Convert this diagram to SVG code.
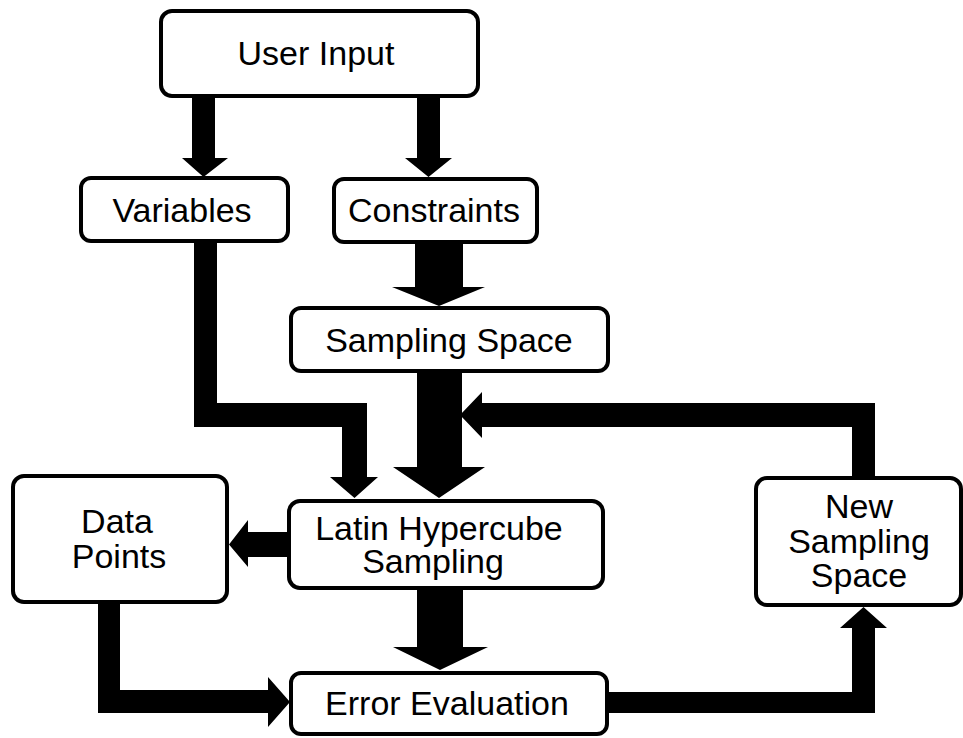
<svg xmlns="http://www.w3.org/2000/svg" width="963" height="738" viewBox="0 0 963 738">
<style>
.box{fill:#fff;stroke:#000;stroke-width:4}
.t{font-family:"Liberation Sans",Arial,sans-serif;font-size:34px;fill:#000;text-anchor:middle}
.c{fill:#000;stroke:none}
</style>
<rect width="963" height="738" fill="#fff"/>
<g id="user-input"><rect class="box" x="161" y="11" width="317" height="85" rx="11"/><text class="t" x="316" y="65">User Input</text></g>
<g id="variables"><rect class="box" x="81" y="178" width="207" height="63" rx="10"/><text class="t" x="182" y="222">Variables</text></g>
<g id="constraints"><rect class="box" x="334" y="179" width="203" height="63" rx="10"/><text class="t" x="434" y="222">Constraints</text></g>
<g id="sampling-space"><rect class="box" x="291" y="308" width="317" height="63" rx="10"/><text class="t" x="449" y="352">Sampling Space</text></g>
<g id="lhs"><rect class="box" x="289" y="501" width="314" height="87" rx="11"/><text class="t" x="439" y="540">Latin Hypercube</text><text class="t" x="433" y="573">Sampling</text></g>
<g id="data-points"><rect class="box" x="13" y="476" width="214" height="126" rx="11"/><text class="t" x="117" y="533">Data</text><text class="t" x="119" y="568">Points</text></g>
<g id="error-evaluation"><rect class="box" x="291" y="673" width="316" height="61" rx="10"/><text class="t" x="447" y="715">Error Evaluation</text></g>
<g id="new-sampling-space"><rect class="box" x="756" y="478" width="205" height="127" rx="11"/><text class="t" x="859" y="518">New</text><text class="t" x="859" y="553">Sampling</text><text class="t" x="859" y="587">Space</text></g>
<g id="connectors">
<polygon class="c" points="192,97 215,97 215,158 228,158 203.5,177 182,158 192,158"/>
<polygon class="c" points="417,97 440,97 440,158 452,158 428.5,177 405,158 417,158"/>
<polygon class="c" points="415,243 463,243 463,287 485,287 439,306 392,287 415,287"/>
<polygon class="c" points="417,372 462,372 462,467 485,467 439,498 393,467 417,467"/>
<polygon class="c" points="194,242 217,242 217,403 367,403 367,477 378,477 354.5,498 330,477 342,477 342,427 194,427"/>
<polygon class="c" points="852,477 852,427 482,427 482,438 460,415 482,392 482,403 875,403 875,477"/>
<polygon class="c" points="288,532 288,557 248,557 248,567 229,544.5 248,520 248,532"/>
<polygon class="c" points="417,589 463,589 463,647 488,647 440,670 393,647 417,647"/>
<polygon class="c" points="98,603 120,603 120,690 268,690 268,677 290,702 268,727 268,713 98,713"/>
<polygon class="c" points="608,692 852,692 852,628 840,628 863.5,607 887,628 875,628 875,713 608,713"/>
</g>
</svg>
